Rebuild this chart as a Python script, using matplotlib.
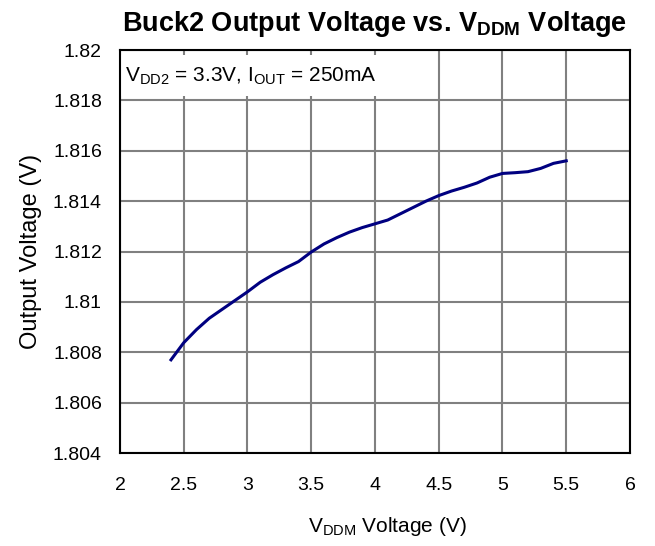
import matplotlib
matplotlib.use("Agg")
import matplotlib.pyplot as plt
from matplotlib.patches import Rectangle
from matplotlib.ticker import FuncFormatter

plt.rcParams['font.family'] = ['Liberation Sans', 'DejaVu Sans']
plt.rcParams['mathtext.fontset'] = 'custom'
plt.rcParams['mathtext.rm'] = 'Liberation Sans'
plt.rcParams['mathtext.it'] = 'Liberation Sans'
plt.rcParams['mathtext.bf'] = 'Liberation Sans:bold'

# data
vddm = [2.4, 2.5, 2.6, 2.7, 2.8, 2.9, 3.0, 3.1, 3.2, 3.3, 3.4, 3.5, 3.6, 3.7, 3.8,
        3.9, 4.0, 4.1, 4.2, 4.3, 4.4, 4.5, 4.6, 4.7, 4.8, 4.9, 5.0, 5.1, 5.2, 5.3,
        5.4, 5.5]
vout = [1.8077, 1.80838, 1.8089, 1.80935, 1.8097, 1.81005, 1.8104, 1.81078, 1.81108,
        1.81135, 1.8116, 1.81198, 1.8123, 1.81255, 1.81277, 1.81295, 1.8131, 1.81325,
        1.8135, 1.81375, 1.814, 1.81422, 1.8144, 1.81455, 1.81472, 1.81495, 1.8151,
        1.81513, 1.81517, 1.8153, 1.8155, 1.8156]

x_ticks = [2, 2.5, 3, 3.5, 4, 4.5, 5, 5.5, 6]
y_ticks = [1.804, 1.806, 1.808, 1.81, 1.812, 1.814, 1.816, 1.818, 1.82]

fig = plt.figure(figsize=(6.55, 5.46), dpi=100)
ax = fig.add_axes([0.1832, 0.1703, 0.7786, 0.7381])

ax.plot(vddm, vout, color='#000080', linewidth=2.2, zorder=3)

ax.set_xlim(2, 6)
ax.set_ylim(1.804, 1.82)
ax.set_xticks(x_ticks)
ax.set_yticks(y_ticks)
ax.xaxis.set_major_formatter(FuncFormatter(lambda v, p: '%g' % v))
ax.yaxis.set_major_formatter(FuncFormatter(lambda v, p: '%g' % round(v, 4)))
ax.tick_params(direction='in', length=0, labelsize=14)
ax.tick_params(axis='x', pad=17)
ax.tick_params(axis='y', pad=13)
ax.grid(True, color='#808080', linewidth=1.5)
ax.set_axisbelow(True)
for s in ax.spines.values():
    s.set_linewidth(1.5)
    s.set_color('black')

ax.set_xlabel('V$_{\\mathrm{DDM}}$ Voltage (V)', fontsize=15)
ax.xaxis.set_label_coords(0.525, -0.155)
ax.set_ylabel('Output Voltage (V)', fontsize=17, labelpad=8)
ax.set_title('Buck2 Output Voltage vs. V$_{\\mathbf{DDM}}$ Voltage',
             fontsize=19.5, fontweight='bold', pad=14)

# white box behind the condition note
ax.add_patch(Rectangle((2.0, 1.81816), 2.25, 0.00164, facecolor='white',
                       edgecolor='none', zorder=2))
ax.text(2.04, 1.81897, 'V$_{\\mathrm{DD2}}$ = 3.3V, I$_{\\mathrm{OUT}}$ = 250mA',
        fontsize=15, va='center', ha='left', zorder=4)

fig.savefig('out.png', dpi=100)
